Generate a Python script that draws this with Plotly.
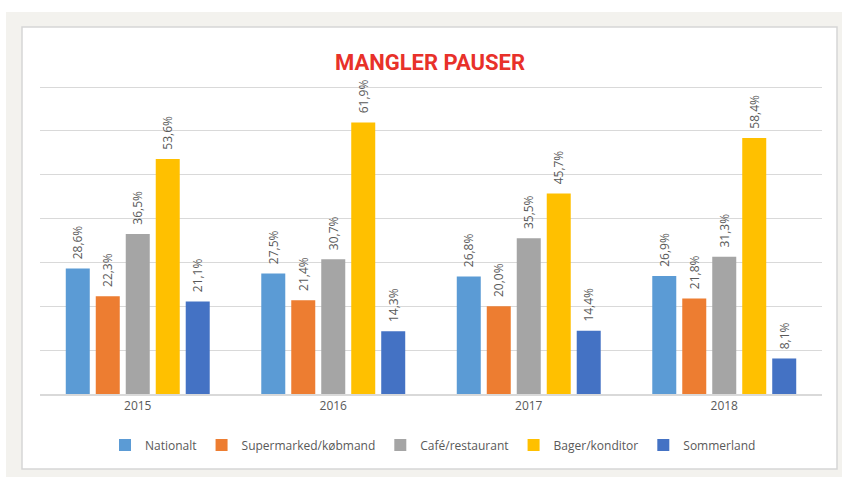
import plotly.graph_objects as go

years = ["2015", "2016", "2017", "2018"]
series_names = ["Nationalt", "Supermarked/købmand", "Café/restaurant", "Bager/konditor", "Sommerland"]
nationalt = [28.6, 27.5, 26.8, 26.9]
supermarked = [22.3, 21.4, 20.0, 21.8]
cafe = [36.5, 30.7, 35.5, 31.3]
bager = [53.6, 61.9, 45.7, 58.4]
sommerland = [21.1, 14.3, 14.4, 8.1]
colors = ["#5B9BD5", "#ED7D31", "#A5A5A5", "#FFC000", "#4472C4"]

all_values = [nationalt, supermarked, cafe, bager, sommerland]

W, H = 842, 477
L, R, T, B = 40, 20, 86, 83
pw, ph = W - L - R, H - T - B

def px(x):
    return (x - L) / pw

def py(y):
    return (H - B - y) / ph

fig = go.Figure()
for name, vals, col in zip(series_names, all_values, colors):
    fig.add_trace(go.Bar(
        x=years, y=vals, name=name,
        marker=dict(color=col, line=dict(width=0)),
        text=["\u00a0\u00a0" + f"{v:.1f}%".replace(".", ",") for v in vals],
        textposition="outside", textangle=-90, constraintext="none",
        textfont=dict(family="Open Sans, sans-serif", size=12, color="#595959"),
        cliponaxis=False,
    ))

shapes = [
    dict(type="rect", xref="paper", yref="paper", layer="below",
         x0=px(6), x1=px(W + 5), y0=py(12), y1=py(H + 5),
         fillcolor="#F3F2EE", line=dict(width=0)),
    dict(type="rect", xref="paper", yref="paper", layer="below",
         x0=px(22), x1=px(837), y0=py(27), y1=py(469),
         fillcolor="#FFFFFF", line=dict(color="#D6D6D6", width=1.5)),
]

fig.update_layout(
    width=W, height=H,
    margin=dict(l=L, r=R, t=T, b=B),
    paper_bgcolor="#FFFFFF",
    plot_bgcolor="rgba(0,0,0,0)",
    barmode="group", bargap=0.233, bargroupgap=0.2,
    title=dict(text="<b>MANGLER PAUSER</b>", x=430 / W, xanchor="center",
               y=1 - 62 / H, yanchor="middle",
               font=dict(family="Liberation Sans Narrow, Roboto, sans-serif", size=22, color="#E8312A")),
    showlegend=True,
    legend=dict(orientation="h", x=px(433), xanchor="center", y=py(445), yanchor="middle",
                font=dict(family="Open Sans, sans-serif", size=12, color="#595959"),
                itemwidth=30, traceorder="normal", bgcolor="rgba(0,0,0,0)"),
    shapes=shapes,
    font=dict(family="Open Sans, sans-serif", color="#595959"),
)
fig.update_xaxes(showline=True, linecolor="#D9D9D9", linewidth=1.5, showgrid=False,
                 ticks="", tickfont=dict(size=12, color="#595959"))
fig.update_yaxes(range=[0, 70.23], tick0=0, dtick=10, showgrid=True, gridcolor="#D9D9D9", gridwidth=1,
                 zeroline=False, showticklabels=False, ticks="")

fig.write_html("out.html", config={"displayModeBar": False},
               post_script="document.body.style.margin='0';")
